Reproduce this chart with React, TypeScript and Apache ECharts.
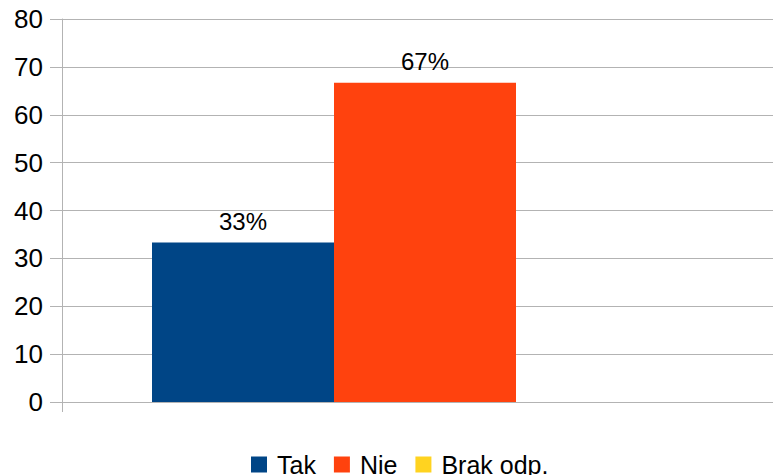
import React, { useEffect, useRef } from "react";
import * as echarts from "echarts";

const categories = [""];
const seriesNames = ["Tak", "Nie", "Brak odp."];
const seriesValues = [[33.33], [66.67], [0]];
const seriesColors = ["#004586", "#ff420e", "#ffd320"];
const yTicks = { min: 0, max: 80, interval: 10 };

export default function App() {
  const ref = useRef<HTMLDivElement>(null);
  useEffect(() => {
    if (!ref.current) return;
    const chart = echarts.init(ref.current, undefined, { renderer: "svg" });
    const font = "'Liberation Sans', Arial, sans-serif";
    chart.setOption({
      animation: false,
      backgroundColor: "#ffffff",
      grid: { left: 62, top: 19, bottom: 73, right: -15, containLabel: false, outerBoundsMode: "none" },
      legend: {
        left: 251,
        top: 452,
        padding: 0,
        icon: "rect",
        itemWidth: 16,
        itemHeight: 16,
        itemGap: 18,
        textStyle: { fontFamily: font, fontSize: 25, lineHeight: 16, color: "#000", padding: [0, 0, 0, 5] },
        data: seriesNames,
      },
      xAxis: {
        type: "category",
        data: categories,
        axisLine: { lineStyle: { color: "#b3b3b3", width: 1 } },
        axisTick: { show: true, length: 10, alignWithLabel: false, lineStyle: { color: "#b3b3b3" } },
        axisLabel: { show: false },
      },
      yAxis: {
        type: "value",
        min: yTicks.min,
        max: yTicks.max,
        interval: yTicks.interval,
        axisLine: { show: true, lineStyle: { color: "#b3b3b3", width: 1 } },
        axisTick: { show: true, length: 12, lineStyle: { color: "#b3b3b3" } },
        axisLabel: { fontFamily: font, fontSize: 26, color: "#000", margin: 19 },
        splitLine: { lineStyle: { color: "#b3b3b3", width: 1 } },
      },
      series: seriesNames.map((name, i) => ({
        name,
        type: "bar",
        data: seriesValues[i],
        barWidth: 182,
        barGap: "0%",
        itemStyle: { color: seriesColors[i] },
        label: {
          show: true,
          position: "top",
          distance: 9,
          fontFamily: font,
          fontSize: 24,
          color: "#000",
          formatter: (p: any) => (p.value > 0 ? Math.round(p.value) + "%" : ""),
        },
      })),
    });
    return () => chart.dispose();
  }, []);
  return <div ref={ref} style={{ width: 773, height: 475, position: "absolute", left: 0, top: 0 }} />;
}
